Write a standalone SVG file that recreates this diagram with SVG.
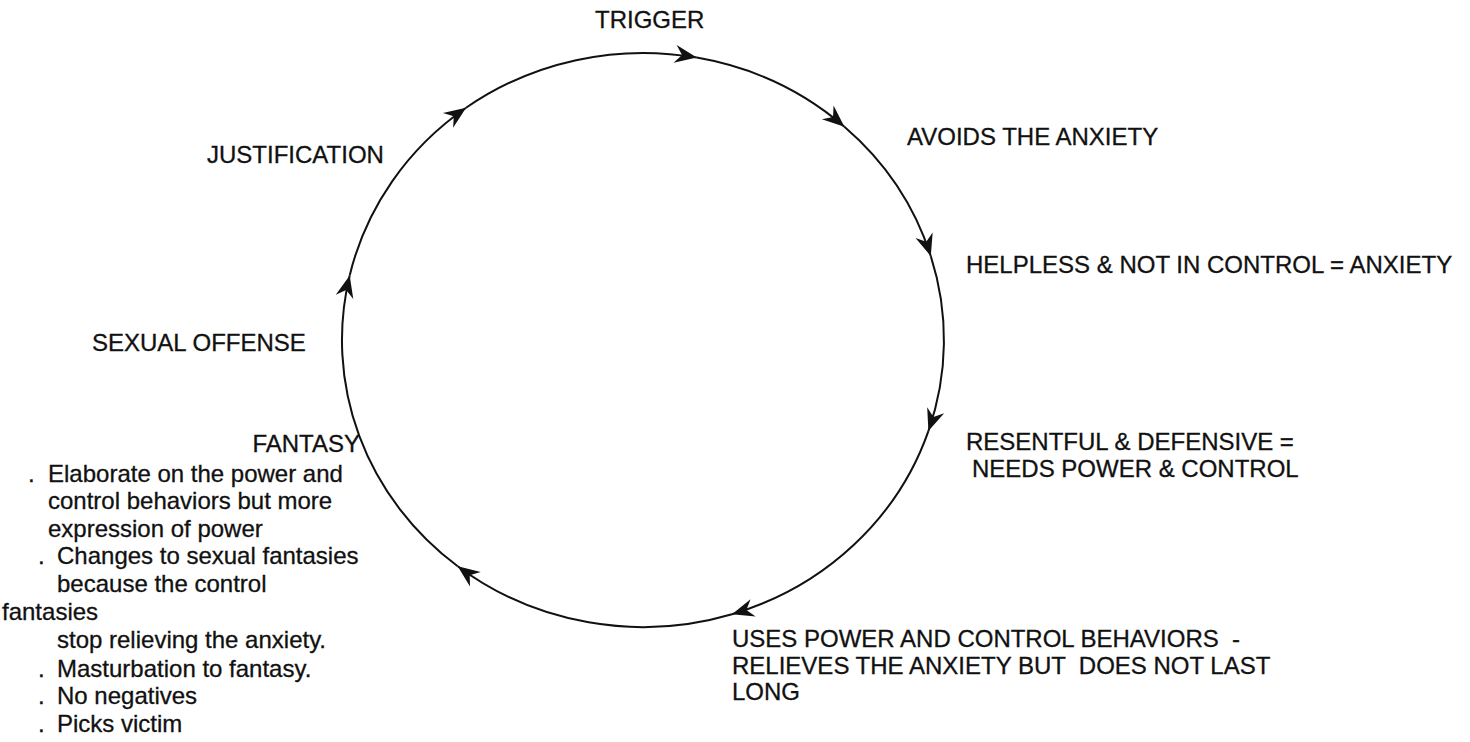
<svg xmlns="http://www.w3.org/2000/svg" width="1470" height="742" viewBox="0 0 1470 742">
<style>
  text { font-family: "Liberation Sans", Arial, sans-serif; font-size: 24px; fill: #111; stroke: #111; stroke-width: 0.3; }
  .cyc { fill: none; stroke: #111; stroke-width: 2; marker-end: url(#ah); }
</style>
<defs>
  <marker id="ah" markerUnits="userSpaceOnUse" viewBox="-23 -10 24 20" markerWidth="24" markerHeight="20" refX="0" refY="0" orient="auto">
    <path d="M0,0 L-22,-9 L-15,0 L-22,9 Z" fill="#111"/>
  </marker>
</defs>
<rect width="1470" height="742" fill="#fff"/>
<g id="connectors">
  <path class="cyc" d="M930.8,256.1 A301,287 0 0 1 928.4,431.1"/>
  <path class="cyc" d="M928.4,431.1 A301,287 0 0 1 732.0,614.2"/>
  <path class="cyc" d="M732.0,614.2 A301,287 0 0 1 457.7,566.2"/>
  <path class="cyc" d="M457.7,566.2 A301,287 0 0 1 349.7,275.4"/>
  <path class="cyc" d="M349.7,275.4 A301,287 0 0 1 466.1,107.8"/>
  <path class="cyc" d="M466.1,107.8 A301,287 0 0 1 696.8,57.6"/>
  <path class="cyc" d="M696.8,57.6 A301,287 0 0 1 844.4,126.7"/>
  <path class="cyc" d="M844.4,126.7 A301,287 0 0 1 930.8,256.1"/>
</g>
<g id="trigger"><text x="595" y="28">TRIGGER</text></g>
<g id="avoids"><text x="907" y="145">AVOIDS THE ANXIETY</text></g>
<g id="helpless"><text x="966" y="273">HELPLESS &amp; NOT IN CONTROL = ANXIETY</text></g>
<g id="resentful">
  <text x="966" y="450">RESENTFUL &amp; DEFENSIVE =</text>
  <text x="972" y="477">NEEDS POWER &amp; CONTROL</text>
</g>
<g id="uses">
  <text x="732" y="647" xml:space="preserve">USES POWER AND CONTROL BEHAVIORS  -</text>
  <text x="732" y="674" xml:space="preserve">RELIEVES THE ANXIETY BUT  DOES NOT LAST</text>
  <text x="732" y="700">LONG</text>
</g>
<g id="fantasy">
  <text x="360" y="452" text-anchor="end">FANTASY</text>
  <text x="28" y="482">.</text><text x="48" y="482">Elaborate on the power and</text>
  <text x="48" y="509">control behaviors but more</text>
  <text x="48" y="537">expression of power</text>
  <text x="38" y="564">.</text><text x="57" y="564">Changes to sexual fantasies</text>
  <text x="57" y="592">because the control</text>
  <text x="2" y="620">fantasies</text>
  <text x="57" y="648">stop relieving the anxiety.</text>
  <text x="38" y="677">.</text><text x="57" y="677">Masturbation to fantasy.</text>
  <text x="38" y="704">.</text><text x="57" y="704">No negatives</text>
  <text x="38" y="732">.</text><text x="57" y="732">Picks victim</text>
</g>
<g id="sexual-offense"><text x="92" y="351">SEXUAL OFFENSE</text></g>
<g id="justification"><text x="207" y="163">JUSTIFICATION</text></g>
</svg>
